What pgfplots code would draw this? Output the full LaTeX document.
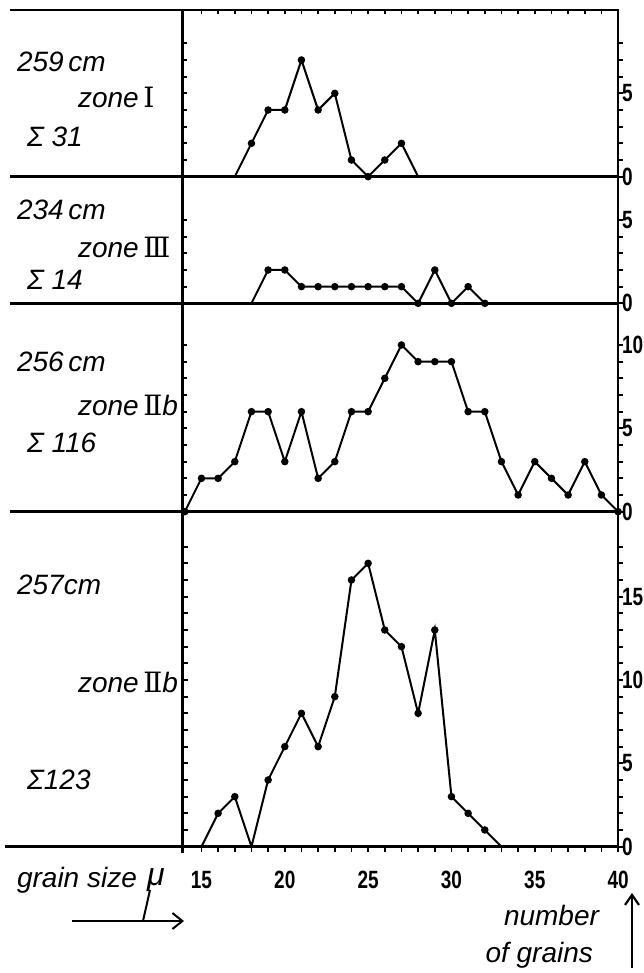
\documentclass[border=0pt]{standalone}
\usepackage{fontspec}
\setmainfont{Liberation Sans}
\newfontfamily\romanf{DejaVu Serif}
\newfontfamily\tickf{Liberation Sans}[FakeStretch=0.76]
\usepackage{pgfplots}
\pgfplotsset{compat=1.18}
\usetikzlibrary{arrows.meta}

\pgfplotsset{
  panel/.style={
    x=8.333pt, y=8.333pt, scale only axis,
    xmin=13.85, xmax=40, ymin=0,
    axis line style={line width=1.3pt},
    every tick/.style={draw=black, line width=0.9pt},
    major tick length=2.2pt,
    xtick=\empty, ytick=\empty,
    ytick pos=left, ytick align=inside,
    xtick align=inside,
    xticklabels={}, yticklabels={},
    ticklabel style={font=\tickf\bfseries\fontsize{12.5}{12.5}\selectfont},
    /pgf/number format/assume math mode=true,
    clip=false,
  },
  rpanel/.style={
    panel,
    ytick pos=right, ytick align=outside,
    yticklabel style={inner xsep=0pt, xshift=-0.4pt},
  },
  curve/.style={black, line width=1pt, mark=*, mark size=1.35pt,
    mark options={solid, fill=black}},
}

\begin{document}
\begin{tikzpicture}
% 259 cm, zone I
\begin{axis}[panel, name=p1, at={(91.15pt,-5pt)}, anchor=north west,
  ymax=10, ytick={1,...,8},
  xtick pos=top, xtick={15,...,39}]
\addplot[curve, mark indices={2,3,4,5,6,7,8,9,10,11}] coordinates {
  (17,0) (18,2) (19,4) (20,4) (21,7) (22,4) (23,5) (24,1) (25,0) (26,1) (27,2) (28,0)};
\end{axis}
\begin{axis}[rpanel, at={(p1.north west)}, anchor=north west,
  ymax=10, ytick={0,...,8}, yticklabels={0,,,,,5,,,}]
\end{axis}

% 234 cm, zone III
\begin{axis}[panel, name=p2, at={(p1.south west)}, anchor=north west,
  ymax=7.6, ytick={1,...,5}]
\addplot[curve, mark indices={2,3,4,5,6,7,8,9,10,11,12,13,14,15}] coordinates {
  (18,0) (19,2) (20,2) (21,1) (22,1) (23,1) (24,1) (25,1) (26,1) (27,1)
  (28,0) (29,2) (30,0) (31,1) (32,0)};
\end{axis}
\begin{axis}[rpanel, at={(p2.north west)}, anchor=north west,
  ymax=7.6, ytick={0,...,5}, yticklabels={0,,,,,5}]
\end{axis}

% 256 cm, zone IIb
\begin{axis}[panel, name=p3, at={(p2.south west)}, anchor=north west,
  ymax=12.5, ytick={1,...,10}]
\addplot[curve] coordinates {
  (14,0) (15,2) (16,2) (17,3) (18,6) (19,6) (20,3) (21,6) (22,2) (23,3)
  (24,6) (25,6) (26,8) (27,10) (28,9) (29,9) (30,9) (31,6) (32,6) (33,3)
  (34,1) (35,3) (36,2) (37,1) (38,3) (39,1) (40,0)};
\end{axis}
\begin{axis}[rpanel, at={(p3.north west)}, anchor=north west,
  ymax=12.5, ytick={0,...,10}, yticklabels={0,,,,,5,,,,,10}]
\end{axis}

% 257 cm, zone IIb
\begin{axis}[panel, name=p4, at={(p3.south west)}, anchor=north west,
  ymax=20.1, ytick={1,...,18},
  xtick pos=bottom, xtick align=outside,
  xtick={15,...,40},
  xticklabels={15,,,,,20,,,,,25,,,,,30,,,,,35,,,,,40},
  major tick length=2.6pt,
  xticklabel style={yshift=-6pt}]
\addplot[curve, mark indices={2,3,5,6,7,8,9,10,11,12,13,14,15,16,17,18}] coordinates {
  (15,0) (16,2) (17,3) (18,0) (19,4) (20,6) (21,8) (22,6) (23,9) (24,16)
  (25,17) (26,13) (27,12) (28,8) (29,13) (30,3) (31,2) (32,1) (33,0)};
\end{axis}
\begin{axis}[rpanel, at={(p4.north west)}, anchor=north west,
  ymax=20.1, ytick={0,...,18}, yticklabels={0,,,,,5,,,,,10,,,,,15,,,}]
\end{axis}

% frame lines and texts, in pixel units of the reference
\begin{scope}[x=0.5pt, y=-0.5pt, font=\itshape\fontsize{14}{14}\selectfont]
  \draw[line width=1.3pt] (10,10) -- (182.3,10);
  \draw[line width=1.3pt] (10,176.7) -- (182.3,176.7);
  \draw[line width=1.3pt] (10,303.3) -- (182.3,303.3);
  \draw[line width=1.3pt] (10,511.7) -- (182.3,511.7);
  \draw[line width=1.3pt] (5,846.7) -- (182.3,846.7);
  \draw[line width=1.3pt] (182.3,846.7) -- (182.3,853);

  \node[anchor=west] at (10,62) {259\,cm};
  \node[anchor=west] at (71,97) {zone\,{\upshape\romanf Ⅰ}};
  \node[anchor=west] at (20,137) {Σ 31};

  \node[anchor=west] at (10,210) {234\,cm};
  \node[anchor=west] at (71,247) {zone\,{\upshape\romanf Ⅲ}};
  \node[anchor=west] at (20,280) {Σ 14};

  \node[anchor=west] at (10,362) {256\,cm};
  \node[anchor=west] at (71,405) {zone\,{\upshape\romanf Ⅱ}b};
  \node[anchor=west] at (20,443) {Σ 116};

  \node[anchor=west] at (10,585) {257cm};
  \node[anchor=west] at (71,682) {zone\,{\upshape\romanf Ⅱ}b};
  \node[anchor=west] at (20,780) {Σ123};

  \node[anchor=west] at (10,880) {grain size};
  \node[font=\itshape\fontsize{16}{16}\selectfont] at (156,880) {μ};
  \draw[line width=1pt] (150,890) -- (143,921);
  \draw[line width=1pt, -{Straight Barb[length=5pt, width=8pt]}] (72,921) -- (184,921);

  \node[anchor=east] at (606,915) {number};
  \node[anchor=east] at (600,955) {of grains};
  \draw[line width=1.1pt, -{Straight Barb[length=5pt, width=7pt]}] (632,968) -- (632,893);

  \pgfresetboundingbox
  \path[use as bounding box] (0,0) rectangle (643,973);
\end{scope}
\end{tikzpicture}
\end{document}
